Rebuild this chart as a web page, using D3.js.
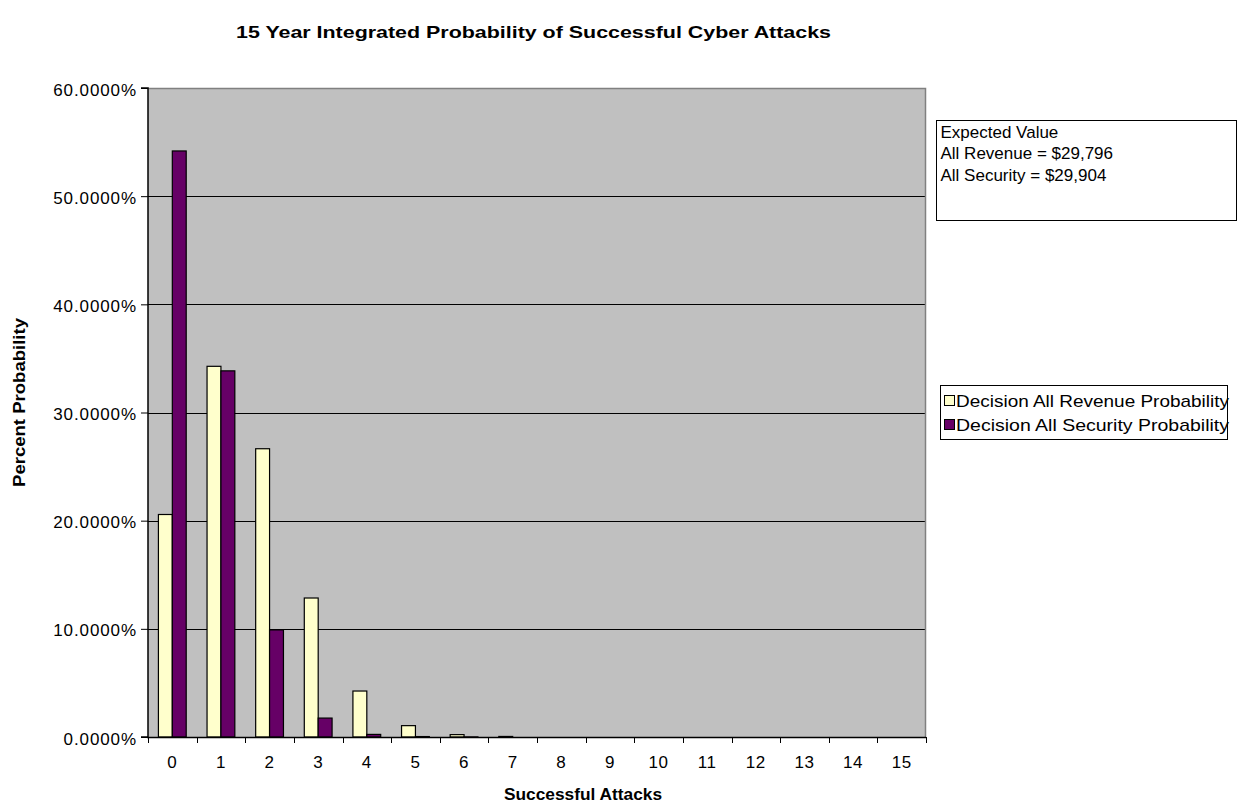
<!DOCTYPE html>
<html>
<head>
<meta charset="utf-8">
<script src="https://cdn.jsdelivr.net/npm/d3@7"></script>
<style>
  html, body { margin: 0; padding: 0; background: #fff; }
  svg { display: block; font-family: "Liberation Sans", Arial, sans-serif; }
</style>
</head>
<body>
<svg id="chart" width="1237" height="805"></svg>
<script>
// Number of successful attacks over the 15 year horizon
const categories = ["0","1","2","3","4","5","6","7","8","9","10","11","12","13","14","15"];
// Probability (%) of each outcome under the two decisions
const revenueProb  = [20.57, 34.27, 26.65, 12.85, 4.25, 1.05, 0.22, 0.05, 0, 0, 0, 0, 0, 0, 0, 0];
const securityProb = [54.18, 33.85, 9.90, 1.75, 0.24, 0.04, 0.01, 0, 0, 0, 0, 0, 0, 0, 0, 0];
const seriesNames  = ["Decision All Revenue Probability", "Decision All Security Probability"];
const seriesColors = ["#FFFFCC", "#660066"];
const yTicks = [0, 10, 20, 30, 40, 50, 60];
const noteLines = ["Expected Value", "All Revenue = $29,796", "All Security = $29,904"];

const svg = d3.select("#chart");
const plot = { left: 148, top: 88, right: 926, bottom: 737 };

const x = d3.scaleBand().domain(categories).range([plot.left, plot.right]).paddingInner(0).paddingOuter(0);
const inner = d3.scaleBand().domain([0, 1]).range([0, x.bandwidth()]).paddingInner(0).paddingOuter(0.75);
const y = d3.scaleLinear().domain([0, 60]).range([plot.bottom, plot.top]);

// plot background
svg.append("rect")
  .attr("x", plot.left).attr("y", plot.top)
  .attr("width", plot.right - plot.left).attr("height", plot.bottom - plot.top)
  .attr("fill", "#C0C0C0");

// horizontal gridlines
svg.append("g").selectAll("line").data(yTicks.filter(t => t > 0 && t < 60)).join("line")
  .attr("x1", plot.left).attr("x2", plot.right)
  .attr("y1", d => Math.round(y(d)) + 0.5).attr("y2", d => Math.round(y(d)) + 0.5)
  .attr("stroke", "#000").attr("stroke-width", 1);

// plot border (top and right)
svg.append("path")
  .attr("d", `M${plot.left},${plot.top + 0.5}H${plot.right - 0.5}V${plot.bottom}`)
  .attr("fill", "none").attr("stroke", "#808080").attr("stroke-width", 1.5);

// bars
const series = [revenueProb, securityProb];
series.forEach((vals, s) => {
  svg.append("g").selectAll("rect").data(vals.map((v, i) => ({ v, c: categories[i] })).filter(d => d.v > 0)).join("rect")
    .attr("x", d => x(d.c) + inner(s))
    .attr("y", d => y(d.v))
    .attr("width", inner.bandwidth())
    .attr("height", d => plot.bottom - y(d.v))
    .attr("fill", seriesColors[s])
    .attr("stroke", "#000").attr("stroke-width", 1.2);
});

// y axis
const yAxis = d3.axisLeft(y).tickValues(yTicks).tickSize(7).tickPadding(4)
  .tickFormat(d => d.toFixed(4) + "%");
const gy = svg.append("g").attr("transform", `translate(${plot.left},0)`).call(yAxis);
gy.select(".domain").attr("stroke", "#000").attr("stroke-width", 1.5).attr("d", `M-7,${plot.top}H0V${plot.bottom}H-7`);
gy.selectAll(".tick text").attr("font-size", 17).attr("fill", "#000").attr("dy", "0.42em")
  .attr("letter-spacing", 0.9)
  .attr("font-family", "Liberation Sans, Arial, sans-serif");
gy.selectAll(".tick line").attr("stroke", "#000");

// x axis: ticks at category boundaries, labels centred
const gx = svg.append("g").attr("transform", `translate(0,${plot.bottom})`);
gx.append("line").attr("x1", plot.left - 1).attr("x2", plot.right).attr("y1", 0.5).attr("y2", 0.5)
  .attr("stroke", "#000").attr("stroke-width", 1.5);
const bounds = categories.map(c => x(c)).concat([x(categories[categories.length - 1]) + x.bandwidth()]);
gx.selectAll("line.tk").data(bounds).join("line").attr("class", "tk")
  .attr("x1", d => Math.round(d) + 0.5).attr("x2", d => Math.round(d) + 0.5)
  .attr("y1", 0).attr("y2", 6).attr("stroke", "#000");
gx.selectAll("text").data(categories).join("text")
  .attr("x", d => x(d) + x.bandwidth() / 2).attr("y", 30.5)
  .attr("text-anchor", "middle").attr("font-size", 17).attr("letter-spacing", 0.6).attr("fill", "#000")
  .text(d => d);

// titles
svg.append("text").attr("x", 533.5).attr("y", 38).attr("text-anchor", "middle")
  .attr("font-size", 17).attr("font-weight", "bold")
  .attr("textLength", 595).attr("lengthAdjust", "spacingAndGlyphs")
  .text("15 Year Integrated Probability of Successful Cyber Attacks");
svg.append("text").attr("x", 583).attr("y", 800).attr("text-anchor", "middle")
  .attr("font-size", 16).attr("font-weight", "bold")
  .attr("textLength", 158).attr("lengthAdjust", "spacingAndGlyphs")
  .text("Successful Attacks");
svg.append("text").attr("transform", "translate(25,402.5) rotate(-90)").attr("text-anchor", "middle")
  .attr("font-size", 16).attr("font-weight", "bold")
  .attr("textLength", 169).attr("lengthAdjust", "spacingAndGlyphs")
  .text("Percent Probability");

// expected value note box
svg.append("rect").attr("x", 936.5).attr("y", 120.5).attr("width", 300).attr("height", 100)
  .attr("fill", "#fff").attr("stroke", "#000").attr("stroke-width", 1);
svg.append("g").selectAll("text").data(noteLines).join("text")
  .attr("x", 940.5).attr("y", (d, i) => 137.5 + i * 21.5)
  .attr("font-size", 17).attr("fill", "#000").text(d => d);

// legend
const lg = svg.append("g");
lg.append("rect").attr("x", 940.5).attr("y", 385.5).attr("width", 287).attr("height", 54)
  .attr("fill", "#fff").attr("stroke", "#000").attr("stroke-width", 1);
seriesNames.forEach((name, i) => {
  const base = 407 + i * 24;
  lg.append("rect").attr("x", 944.5).attr("y", base - 11.5).attr("width", 10).attr("height", 10)
    .attr("fill", seriesColors[i]).attr("stroke", "#000").attr("stroke-width", 1);
  lg.append("text").attr("x", 956).attr("y", base).attr("font-size", 17).attr("fill", "#000")
    .attr("textLength", 273).attr("lengthAdjust", "spacingAndGlyphs").text(name);
});
</script>
</body>
</html>
